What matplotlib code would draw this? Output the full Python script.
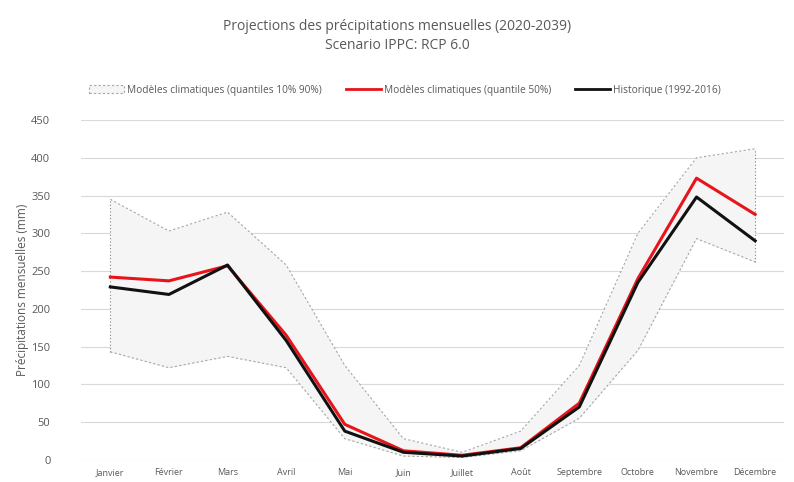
import matplotlib.pyplot as plt
from matplotlib.patches import Patch
from matplotlib.lines import Line2D
import numpy as np

plt.rcParams['font.family'] = ['Open Sans', 'DejaVu Sans']

mois = ["Janvier", "Février", "Mars", "Avril", "Mai", "Juin", "Juillet",
        "Août", "Septembre", "Octobre", "Novembre", "Décembre"]

# quantiles 10% / 90% des modèles climatiques
q10 = [143, 122, 137, 122, 28, 5, 3, 12, 55, 145, 293, 262]
q90 = [345, 303, 328, 258, 125, 28, 10, 38, 125, 300, 400, 412]
# quantile 50%
q50 = [242, 237, 257, 165, 47, 12, 6, 16, 75, 240, 373, 325]
# historique 1992-2016
hist = [229, 219, 258, 158, 38, 10, 5, 15, 70, 235, 348, 290]

grey_txt = "#595959"

fig = plt.figure(figsize=(7.94, 4.82), dpi=100)
ax = fig.add_axes([0.102, 0.046, 0.886, 0.705])

x = np.arange(len(mois))

# bande des quantiles
ax.fill_between(x, q10, q90, color="#f5f5f5", lw=0, zorder=1)
ax.plot(x, q90, color="#a6a6a6", lw=0.8, ls=(0, (2, 2)), zorder=2)
ax.plot(x, q10, color="#a6a6a6", lw=0.8, ls=(0, (2, 2)), zorder=2)
ax.plot([x[0], x[0]], [q10[0], q90[0]], color="#7f7f7f", lw=0.8, ls=(0, (1, 2)), zorder=2)
ax.plot([x[-1], x[-1]], [q10[-1], q90[-1]], color="#7f7f7f", lw=0.8, ls=(0, (1, 2)), zorder=2)

ax.plot(x, q50, color="#e8141c", lw=2.2, zorder=3)
ax.plot(x, hist, color="#111111", lw=2.2, zorder=4)

ax.set_xlim(-0.5, 11.5)
ax.set_ylim(0, 450)
ax.set_yticks(np.arange(0, 451, 50))
ax.set_xticks(x)
ax.set_xticklabels(mois, fontsize=6.5, color=grey_txt)
ax.tick_params(axis="y", labelsize=8, colors=grey_txt, length=0, pad=22)
ax.tick_params(axis="x", length=0, pad=6)
ax.grid(axis="y", color="#d9d9d9", lw=0.8)
ax.set_axisbelow(True)
for s in ax.spines.values():
    s.set_visible(False)
ax.set_ylabel("Précipitations mensuelles (mm)", fontsize=8.5, color=grey_txt, labelpad=2)

fig.text(0.5, 0.925, "Projections des précipitations mensuelles (2020-2039)\nScenario IPPC: RCP 6.0",
         ha="center", va="center", fontsize=10, color=grey_txt, linespacing=1.4)

handles = [
    Patch(facecolor="#f5f5f5", edgecolor="#a6a6a6", ls=(0, (2, 2)), lw=0.8,
          label="Modèles climatiques (quantiles 10% 90%)"),
    Line2D([0], [0], color="#e8141c", lw=2, label="Modèles climatiques (quantile 50%)"),
    Line2D([0], [0], color="#111111", lw=2, label="Historique (1992-2016)"),
]
fig.legend(handles=handles, loc="center", bbox_to_anchor=(0.51, 0.813), ncol=3,
           frameon=False, fontsize=7.3, labelcolor=grey_txt, handlelength=3.4,
           handletextpad=0.3, columnspacing=2.4, handleheight=0.8)

fig.savefig("out.png", dpi=100)
